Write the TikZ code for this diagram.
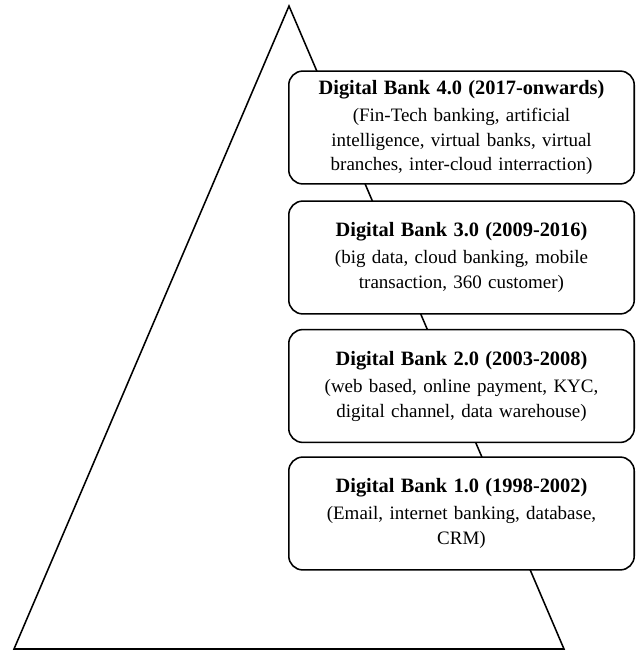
\documentclass[tikz,border=0pt]{standalone}
\usepackage{fontspec}
\setmainfont{Liberation Serif}
\newcommand{\banktitle}[1]{{\fontsize{14.5}{17.5}\selectfont\bfseries #1}}
\begin{document}
\begin{tikzpicture}[x=0.025cm,y=-0.025cm,
    stagebox/.style={draw, line width=1.1pt, rounded corners=0.35cm, fill=white,
        minimum width=8.6cm, minimum height=2.82cm, text width=8.4cm, align=center,
        font=\fontsize{13.5}{17.5}\selectfont}]

\useasboundingbox (0,0) rectangle (636,651);

    % Pyramid outline
    \draw[line width=1.1pt, line join=miter] (289,6) -- (14,649) -- (564,649) -- cycle;

    % Stage boxes, newest on top
    \node[stagebox] (bank4) at (461.5,127.5) {\banktitle{Digital Bank 4.0 (2017-onwards)}\\[2pt]
        (Fin-Tech banking, artificial\\ intelligence, virtual banks, virtual\\ branches, inter-cloud interraction)};
    \node[stagebox] (bank3) at (461.5,257.5) {\banktitle{Digital Bank 3.0 (2009-2016)}\\[2pt]
        (big data, cloud banking, mobile\\ transaction, 360 customer)};
    \node[stagebox] (bank2) at (461.5,386) {\banktitle{Digital Bank 2.0 (2003-2008)}\\[2pt]
        (web based, online payment, KYC,\\ digital channel, data warehouse)};
    \node[stagebox] (bank1) at (461.5,513.5) {\banktitle{Digital Bank 1.0 (1998-2002)}\\[2pt]
        (Email, internet banking, database,\\ CRM)};

\end{tikzpicture}
\end{document}
